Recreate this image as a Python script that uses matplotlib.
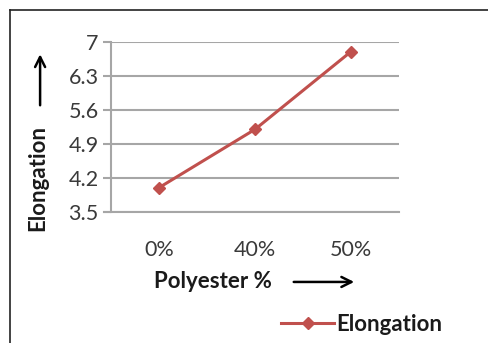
import matplotlib.pyplot as plt
from matplotlib.lines import Line2D

# Elongation vs polyester content
categories = ['0%', '40%', '50%']
elongation = [4.0, 5.2, 6.8]
yticks = [3.5, 4.2, 4.9, 5.6, 6.3, 7.0]
ytick_labels = ['3.5', '4.2', '4.9', '5.6', '6.3', '7']

plt.rcParams['font.family'] = ['Lato', 'DejaVu Sans']

fig = plt.figure(figsize=(4.89, 3.43), dpi=100)
ax = fig.add_axes([0.227, 0.382, 0.589, 0.496])

x = range(len(categories))
ax.plot(x, elongation, color='#C0504D', lw=2.2, marker='D', ms=6.5,
        label='Elongation')

ax.set_xlim(-0.5, 2.5)
ax.set_ylim(3.5, 7.0)
ax.set_yticks(yticks)
ax.set_yticklabels(ytick_labels)
ax.set_xticks(list(x))
ax.set_xticklabels(categories)

grid_c = '#A6A6A6'
tick_c = '#3a3a3a'
ax.grid(axis='y', color=grid_c, lw=1.5)
ax.set_axisbelow(True)
for s in ['top', 'right', 'bottom']:
    ax.spines[s].set_visible(False)
ax.spines['left'].set_color(grid_c)
ax.spines['left'].set_linewidth(1.5)
ax.tick_params(axis='y', length=6, width=1.5, color=grid_c, labelsize=15.5,
               labelcolor=tick_c, pad=3)
ax.tick_params(axis='x', length=0, labelsize=15.5, labelcolor=tick_c, pad=20)

# gridlines reach a little past the left spine, like tick marks
ax.axhline(3.5, xmin=-0.025, xmax=1, color=grid_c, lw=1.5, clip_on=False)

# axis titles with arrows
fig.text(0.077, 0.481, 'Elongation', rotation=90, ha='center', va='center',
         fontsize=16, fontweight='bold', color='#1a1a1a')
ax.annotate('', xy=(0.082, 0.85), xytext=(0.082, 0.685),
            xycoords='figure fraction', textcoords='figure fraction',
            arrowprops=dict(arrowstyle='->', color='black', lw=1.8,
                            mutation_scale=18))
fig.text(0.435, 0.178, 'Polyester %', ha='center', va='center',
         fontsize=16, fontweight='bold', color='#1a1a1a')
ax.annotate('', xy=(0.73, 0.178), xytext=(0.595, 0.178),
            xycoords='figure fraction', textcoords='figure fraction',
            arrowprops=dict(arrowstyle='->', color='black', lw=1.8,
                            mutation_scale=18))

fig.legend(loc='center', bbox_to_anchor=(0.74, 0.055), frameon=False,
           handlelength=2.4, handletextpad=0.1, prop=dict(size=16, weight='bold'),
           labelcolor='#1a1a1a')

# outer frame
fig.add_artist(Line2D([0.02, 1.0], [0.97, 0.97], color='#222222', lw=1.2,
                      transform=fig.transFigure))
fig.add_artist(Line2D([0.02, 0.02], [0.0, 0.97], color='#222222', lw=1.2,
                      transform=fig.transFigure))

fig.savefig('out.png', dpi=100)
